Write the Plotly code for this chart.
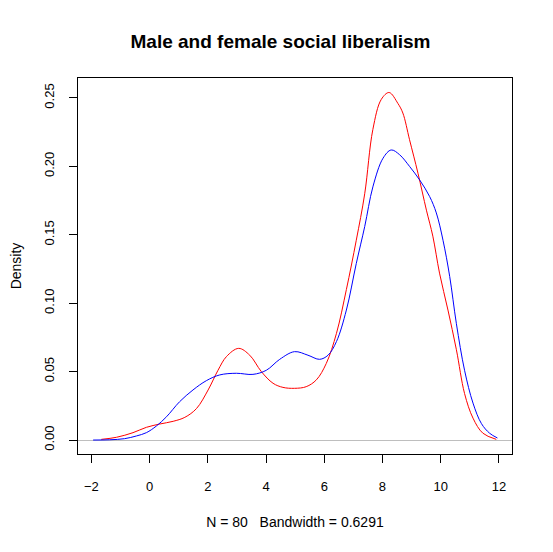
import plotly.graph_objects as go

# density curves
male_x = [-1.66, -1.14, -0.57, -0.11, 0.35, 0.81, 1.21, 1.61, 2.01, 2.35, 2.64, 3.06, 3.44, 3.84,
          4.24, 4.58, 4.98, 5.38, 5.73, 6.07, 6.42, 6.76, 7.10, 7.39, 7.67, 7.96, 8.23, 8.53,
          8.70, 8.93, 9.22, 9.51, 9.73, 9.96, 10.25, 10.54, 10.82, 11.11, 11.45, 11.91]
male_y = [0.0005, 0.002, 0.0054, 0.0093, 0.0117, 0.0137, 0.0166, 0.023, 0.0366, 0.051, 0.061, 0.067,
          0.062, 0.050, 0.0415, 0.0385, 0.0378, 0.039, 0.044, 0.056, 0.078, 0.11, 0.146, 0.18,
          0.227, 0.249, 0.254, 0.246, 0.239, 0.2195, 0.195, 0.168, 0.149, 0.122, 0.095, 0.066,
          0.034, 0.016, 0.005, 0.0005]

female_x = [-1.94, -1.37, -0.86, -0.45, -0.11, 0.23, 0.58, 1.03, 1.49, 1.95, 2.41, 2.98, 3.55,
            4.01, 4.47, 4.98, 5.44, 5.84, 6.13, 6.42, 6.76, 7.10, 7.39, 7.67, 8.02, 8.30, 8.59,
            8.93, 9.28, 9.62, 9.85, 10.08, 10.31, 10.54, 10.82, 11.11, 11.40, 11.68, 11.95]
female_y = [0.0, 0.0002, 0.001, 0.003, 0.0054, 0.0102, 0.017, 0.028, 0.0366, 0.0434, 0.0476,
            0.0488, 0.048, 0.051, 0.059, 0.0646, 0.062, 0.059, 0.062, 0.072, 0.095, 0.129, 0.156,
            0.185, 0.206, 0.212, 0.2085, 0.200, 0.190, 0.178, 0.166, 0.146, 0.1195, 0.085, 0.051,
            0.027, 0.012, 0.005, 0.0015]

x_ticks = [-2, 0, 2, 4, 6, 8, 10, 12]
y_ticks = [0.0, 0.05, 0.10, 0.15, 0.20, 0.25]

fig = go.Figure()
fig.add_trace(go.Scatter(x=male_x, y=male_y, mode="lines", line=dict(color="#FF0000", width=1, shape="spline"),
                         name="male"))
fig.add_trace(go.Scatter(x=female_x, y=female_y, mode="lines", line=dict(color="#0000FF", width=1, shape="spline"),
                         name="female"))

tick_font = dict(family="Liberation Sans, Arial", size=13, color="black")
lab_font = dict(family="Liberation Sans, Arial", size=14, color="black")

# page body adds 8px, so the figure is a bit smaller than the window
fig.update_layout(
    width=545, height=544,
    margin=dict(l=70, r=41, t=70, b=98),
    paper_bgcolor="white", plot_bgcolor="white",
    showlegend=False,
    font=tick_font,
    title=dict(text="<b>Male and female social liberalism</b>", x=0.5, xanchor="center",
               y=1 - 33 / 544, yanchor="middle", font=dict(family="Liberation Sans, Arial", size=19, color="black")),
    xaxis=dict(range=[-2.46, 12.45], tickvals=x_ticks, ticks="outside", ticklen=8, tickcolor="black",
               showline=True, linecolor="black", mirror=True, showgrid=False, zeroline=False,
               tickfont=tick_font, ticklabelstandoff=12, automargin=False,
               title=dict(text="N = 80\u00a0\u00a0\u00a0Bandwidth = 0.6291", font=lab_font, standoff=24)),
    yaxis=dict(range=[-0.0102, 0.2646], tickvals=y_ticks, tickformat=".2f", tickangle=-90,
               ticks="outside", ticklen=8, tickcolor="black",
               showline=True, linecolor="black", mirror=True, showgrid=False,
               zeroline=True, zerolinecolor="#BEBEBE", zerolinewidth=1,
               tickfont=tick_font, ticklabelstandoff=10, automargin=False,
               title=dict(text="Density", font=lab_font, standoff=24)),
)

fig.write_html("out.html")
